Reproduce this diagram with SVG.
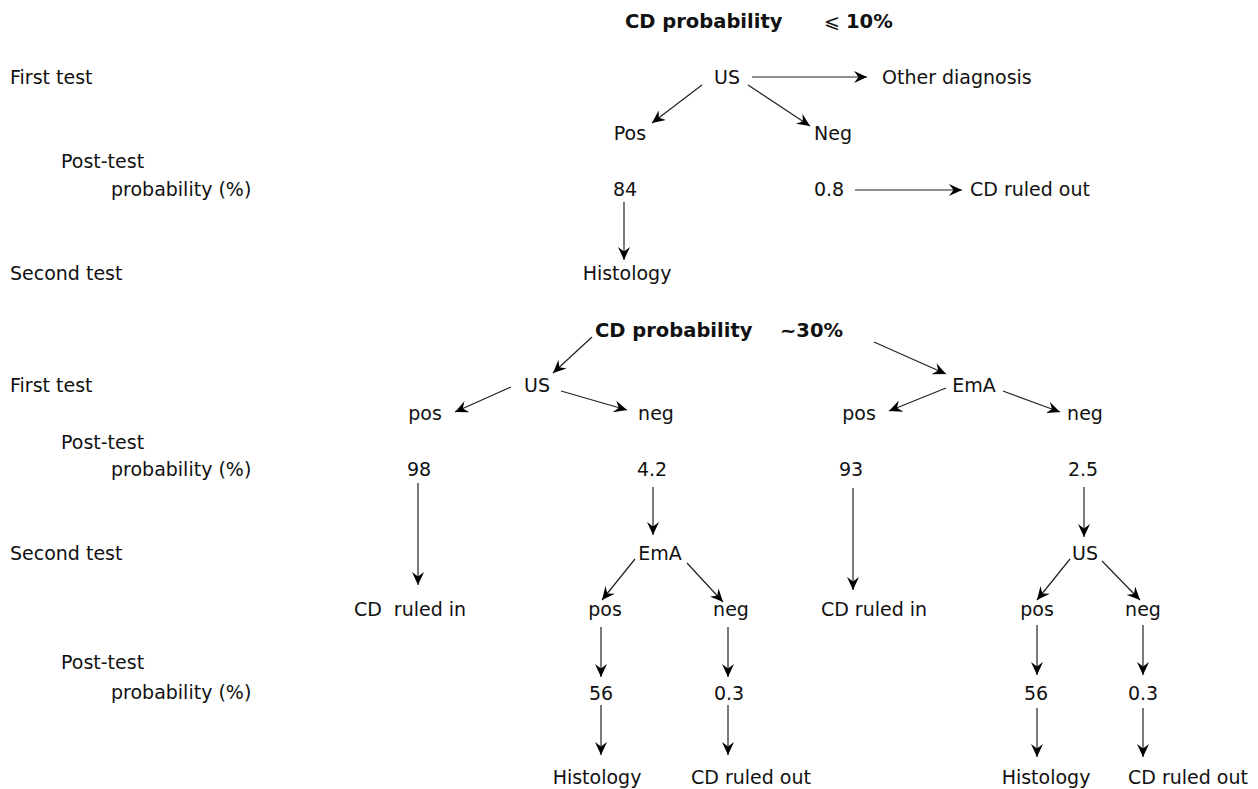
<svg xmlns="http://www.w3.org/2000/svg" width="1258" height="789" viewBox="0 0 1258 789">
<style>
text{font-family:"DejaVu Sans","Verdana",sans-serif;font-size:19px;fill:#111}
.m{text-anchor:middle}
.b{font-weight:bold;font-size:19.5px}
.c line{stroke:#222;stroke-width:1.2;marker-end:url(#ah)}
</style>
<defs>
<marker id="ah" markerUnits="userSpaceOnUse" viewBox="0 0 13 12" refX="13" refY="6" markerWidth="13" markerHeight="12" orient="auto">
<path d="M0,0 L13,6 L0,12 L4.5,6 z" fill="#000"/>
</marker>
</defs>
<rect width="1258" height="789" fill="#fff"/>
<g id="row-labels">
<text x="10" y="84">First test</text>
<text x="61" y="168">Post-test</text>
<text x="111" y="196">probability (%)</text>
<text x="10" y="280">Second test</text>
<text x="10" y="392">First test</text>
<text x="61" y="449">Post-test</text>
<text x="111" y="476">probability (%)</text>
<text x="10" y="560">Second test</text>
<text x="61" y="669">Post-test</text>
<text x="111" y="699">probability (%)</text>
</g>
<g id="title1"><text y="28"><tspan class="b" x="625">CD probability</tspan><tspan x="824">⩽</tspan><tspan class="b" x="846">10%</tspan></text></g>
<g id="t-us"><text class="m" x="727" y="84">US</text></g>
<g id="t-other"><text x="882" y="84">Other diagnosis</text></g>
<g id="t-pos"><text class="m" x="630" y="140">Pos</text></g>
<g id="t-neg"><text class="m" x="833" y="140">Neg</text></g>
<g id="t-84"><text class="m" x="625" y="196">84</text></g>
<g id="t-08"><text class="m" x="829" y="196">0.8</text></g>
<g id="t-out"><text x="970" y="196">CD ruled out</text></g>
<g id="t-hist"><text class="m" x="627" y="280">Histology</text></g>

<g id="title2"><text y="337"><tspan class="b" x="595">CD probability</tspan><tspan class="b" x="780">~30%</tspan></text></g>
<g id="a-us"><text class="m" x="537" y="392">US</text></g>
<g id="b-ema"><text class="m" x="974" y="392">EmA</text></g>
<g id="a-pos"><text class="m" x="425" y="420">pos</text></g>
<g id="a-neg"><text class="m" x="656" y="420">neg</text></g>
<g id="b-pos"><text class="m" x="859" y="420">pos</text></g>
<g id="b-neg"><text class="m" x="1085" y="420">neg</text></g>
<g id="a-98"><text class="m" x="419" y="476">98</text></g>
<g id="a-42"><text class="m" x="652" y="476">4.2</text></g>
<g id="b-93"><text class="m" x="851" y="476">93</text></g>
<g id="b-25"><text class="m" x="1083" y="476">2.5</text></g>
<g id="a-in"><text class="m" x="410" y="616" style="white-space:pre">CD  ruled in</text></g>
<g id="a-ema"><text class="m" x="660" y="560">EmA</text></g>
<g id="b-in"><text class="m" x="874" y="616">CD ruled in</text></g>
<g id="b-us"><text class="m" x="1085" y="560">US</text></g>
<g id="a2-pos"><text class="m" x="605" y="616">pos</text></g>
<g id="a2-neg"><text class="m" x="731" y="616">neg</text></g>
<g id="b2-pos"><text class="m" x="1037" y="616">pos</text></g>
<g id="b2-neg"><text class="m" x="1143" y="616">neg</text></g>
<g id="a-56"><text class="m" x="601" y="700">56</text></g>
<g id="a-03"><text class="m" x="729" y="700">0.3</text></g>
<g id="b-56"><text class="m" x="1036" y="700">56</text></g>
<g id="b-03"><text class="m" x="1143" y="700">0.3</text></g>
<g id="a-hist"><text class="m" x="597" y="784">Histology</text></g>
<g id="a-out"><text x="691" y="784">CD ruled out</text></g>
<g id="b-hist"><text class="m" x="1046" y="784">Histology</text></g>
<g id="b-out"><text x="1128" y="784">CD ruled out</text></g>

<g id="connectors" class="c">
<line x1="752" y1="77" x2="867" y2="77"/>
<line x1="702" y1="85" x2="652" y2="123"/>
<line x1="748" y1="85" x2="810" y2="126"/>
<line x1="624" y1="202" x2="624" y2="260"/>
<line x1="855" y1="190" x2="962" y2="190"/>
<line x1="592" y1="337" x2="553" y2="373"/>
<line x1="874" y1="342" x2="946" y2="374"/>
<line x1="511" y1="387" x2="455" y2="412"/>
<line x1="561" y1="391" x2="627" y2="410"/>
<line x1="946" y1="388" x2="889" y2="411"/>
<line x1="1003" y1="391" x2="1060" y2="412"/>
<line x1="418" y1="483" x2="418" y2="585"/>
<line x1="653" y1="487" x2="653" y2="535"/>
<line x1="853" y1="488" x2="853" y2="590"/>
<line x1="1084" y1="487" x2="1084" y2="537"/>
<line x1="635" y1="559" x2="602" y2="600"/>
<line x1="687" y1="563" x2="723" y2="602"/>
<line x1="1070" y1="559" x2="1037" y2="600"/>
<line x1="1102" y1="561" x2="1140" y2="600"/>
<line x1="601" y1="627" x2="601" y2="677"/>
<line x1="728" y1="627" x2="728" y2="677"/>
<line x1="1037" y1="625" x2="1037" y2="675"/>
<line x1="1143" y1="625" x2="1143" y2="675"/>
<line x1="601" y1="705" x2="601" y2="755"/>
<line x1="728" y1="705" x2="728" y2="755"/>
<line x1="1037" y1="708" x2="1037" y2="757"/>
<line x1="1143" y1="708" x2="1143" y2="757"/>
</g>
</svg>
